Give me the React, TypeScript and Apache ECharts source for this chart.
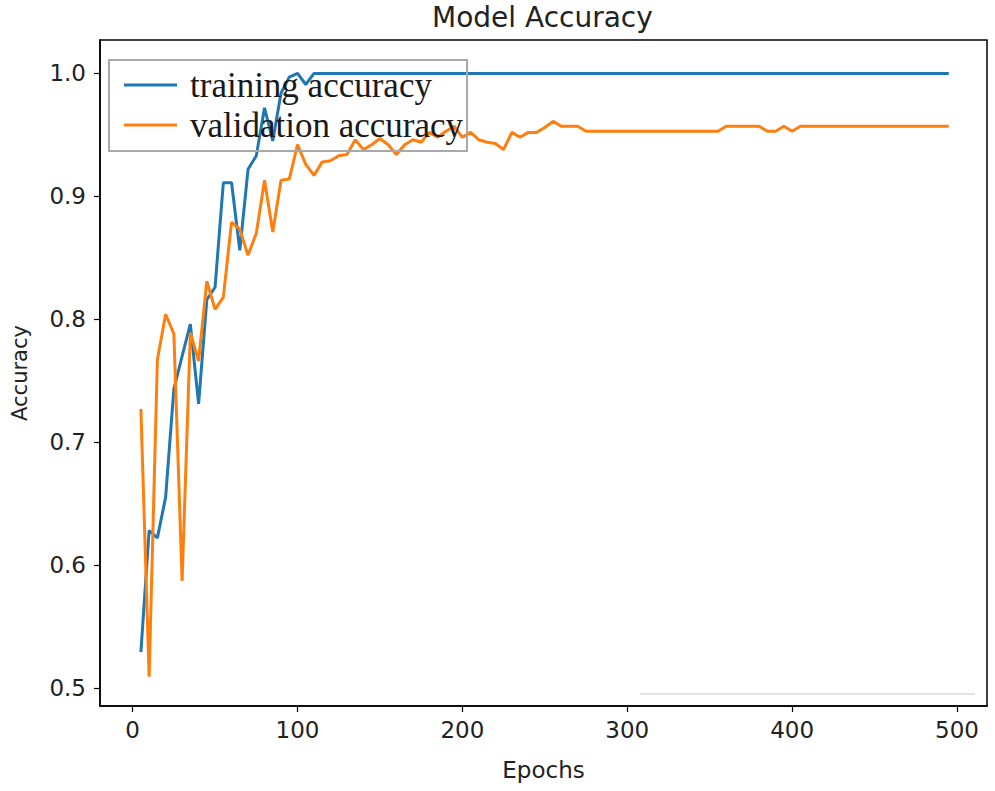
import React, { useEffect, useRef } from "react";
import * as echarts from "echarts";

const epochs = [
  5, 10, 15, 20, 25, 30, 35, 40, 45, 50, 55, 60, 65, 70, 75, 80, 85, 90, 95, 100,
  105, 110, 115, 120, 125, 130, 135, 140, 145, 150, 155, 160, 165, 170, 175, 180, 185, 190, 195, 200,
  205, 210, 215, 220, 225, 230, 235, 240, 245, 250, 255, 260, 265, 270, 275, 280, 285, 290, 295, 300,
  305, 310, 315, 320, 325, 330, 335, 340, 345, 350, 355, 360, 365, 370, 375, 380, 385, 390, 395, 400,
  405, 410, 415, 420, 425, 430, 435, 440, 445, 450, 455, 460, 465, 470, 475, 480, 485, 490, 495,
];

const trainingAccuracy = [
  0.529, 0.628, 0.622, 0.655, 0.743, 0.770, 0.796, 0.731, 0.816, 0.826,
  0.911, 0.911, 0.856, 0.922, 0.933, 0.972, 0.945, 0.984, 0.997, 1.0,
  0.991, 1.0, 1.0, 1.0, 1.0, 1.0, 1.0, 1.0, 1.0, 1.0,
  1.0, 1.0, 1.0, 1.0, 1.0, 1.0, 1.0, 1.0, 1.0, 1.0,
  1.0, 1.0, 1.0, 1.0, 1.0, 1.0, 1.0, 1.0, 1.0, 1.0,
  1.0, 1.0, 1.0, 1.0, 1.0, 1.0, 1.0, 1.0, 1.0, 1.0,
  1.0, 1.0, 1.0, 1.0, 1.0, 1.0, 1.0, 1.0, 1.0, 1.0,
  1.0, 1.0, 1.0, 1.0, 1.0, 1.0, 1.0, 1.0, 1.0, 1.0,
  1.0, 1.0, 1.0, 1.0, 1.0, 1.0, 1.0, 1.0, 1.0, 1.0,
  1.0, 1.0, 1.0, 1.0, 1.0, 1.0, 1.0, 1.0, 1.0,
];

const validationAccuracy = [
  0.727, 0.509, 0.767, 0.804, 0.788, 0.587, 0.789, 0.766, 0.831, 0.808,
  0.818, 0.879, 0.873, 0.852, 0.870, 0.913, 0.871, 0.913, 0.914, 0.942,
  0.926, 0.917, 0.928, 0.929, 0.933, 0.934, 0.946, 0.938, 0.942, 0.947,
  0.942, 0.934, 0.942, 0.946, 0.944, 0.952, 0.948, 0.953, 0.957, 0.948,
  0.952, 0.946, 0.944, 0.943, 0.938, 0.952, 0.948, 0.952, 0.952, 0.956,
  0.961, 0.957, 0.957, 0.957, 0.953, 0.953, 0.953, 0.953, 0.953, 0.953,
  0.953, 0.953, 0.953, 0.953, 0.953, 0.953, 0.953, 0.953, 0.953, 0.953,
  0.953, 0.957, 0.957, 0.957, 0.957, 0.957, 0.953, 0.953, 0.957, 0.953,
  0.957, 0.957, 0.957, 0.957, 0.957, 0.957, 0.957, 0.957, 0.957, 0.957,
  0.957, 0.957, 0.957, 0.957, 0.957, 0.957, 0.957, 0.957, 0.957,
];

const xTicks = [0, 100, 200, 300, 400, 500];
const yTicks = [0.5, 0.6, 0.7, 0.8, 0.9, 1.0];

const seriesNames = ["training accuracy", "validation accuracy"];

export default function App() {
  const ref = useRef<HTMLDivElement>(null);

  useEffect(() => {
    if (!ref.current) return;
    const chart = echarts.init(ref.current, undefined, { renderer: "svg" });
    const tickFont = {
      color: "#222",
      fontFamily: "DejaVu Sans",
      fontSize: 23,
    };
    chart.setOption({
      animation: false,
      backgroundColor: "#fff",
      title: {
        text: "Model Accuracy",
        left: 432,
        top: 3,
        padding: 0,
        textStyle: {
          fontFamily: "DejaVu Sans",
          fontSize: 28,
          fontWeight: "normal",
          color: "#222",
        },
      },
      legend: {
        data: seriesNames,
        orient: "vertical",
        left: 109,
        top: 60,
        padding: [7, 4, 8, 15],
        itemGap: 4,
        icon: "rect",
        itemWidth: 53,
        itemHeight: 3,
        borderColor: "#a8a8a8",
        borderWidth: 2,
        textStyle: {
          fontFamily: "Liberation Serif",
          fontSize: 35,
          lineHeight: 36,
          color: "#1a1a1a",
          padding: [0, 0, 0, 8],
        },
      },
      grid: {
        left: 100,
        right: 8,
        top: 40,
        bottom: 85,
        show: true,
        borderColor: "#000",
        borderWidth: 1.5,
      },
      xAxis: {
        type: "value",
        min: -19.8,
        max: 518.2,
        name: "Epochs",
        nameLocation: "middle",
        nameGap: 52,
        nameTextStyle: { fontFamily: "DejaVu Sans", fontSize: 23, color: "#222" },
        axisLine: { show: true, onZero: false, lineStyle: { color: "#000", width: 1.5 } },
        axisTick: { show: true, inside: false, length: 6, lineStyle: { color: "#000", width: 1.2 }, customValues: xTicks },
        axisLabel: { ...tickFont, margin: 12, customValues: xTicks, formatter: (v: number) => String(v) },
        splitLine: { show: false },
      },
      yAxis: {
        type: "value",
        min: 0.4852,
        max: 1.0272,
        name: "Accuracy",
        nameLocation: "middle",
        nameGap: 70,
        nameRotate: 90,
        nameTextStyle: { fontFamily: "DejaVu Sans", fontSize: 21, color: "#222" },
        axisLine: { show: true, onZero: false, lineStyle: { color: "#000", width: 1.5 } },
        axisTick: { show: true, inside: false, length: 6, lineStyle: { color: "#000", width: 1.2 }, customValues: yTicks },
        axisLabel: { ...tickFont, margin: 14, customValues: yTicks, formatter: (v: number) => v.toFixed(1) },
        splitLine: { show: false },
      },
      graphic: [
        {
          type: "line",
          shape: { x1: 640, y1: 694, x2: 975, y2: 694 },
          style: { stroke: "#e2e2e2", lineWidth: 2 },
          z: 1,
        },
      ],
      series: [
        {
          name: seriesNames[0],
          type: "line",
          data: epochs.map((e, i) => [e, trainingAccuracy[i]]),
          showSymbol: false,
          symbol: "none",
          lineStyle: { color: "#1f77b4", width: 3 },
          itemStyle: { color: "#1f77b4" },
        },
        {
          name: seriesNames[1],
          type: "line",
          data: epochs.map((e, i) => [e, validationAccuracy[i]]),
          showSymbol: false,
          symbol: "none",
          lineStyle: { color: "#ff7f0e", width: 3 },
          itemStyle: { color: "#ff7f0e" },
        },
      ],
    });
    return () => chart.dispose();
  }, []);

  return (
    <div
      ref={ref}
      style={{ position: "absolute", left: 0, top: 0, width: 995, height: 791 }}
    />
  );
}
